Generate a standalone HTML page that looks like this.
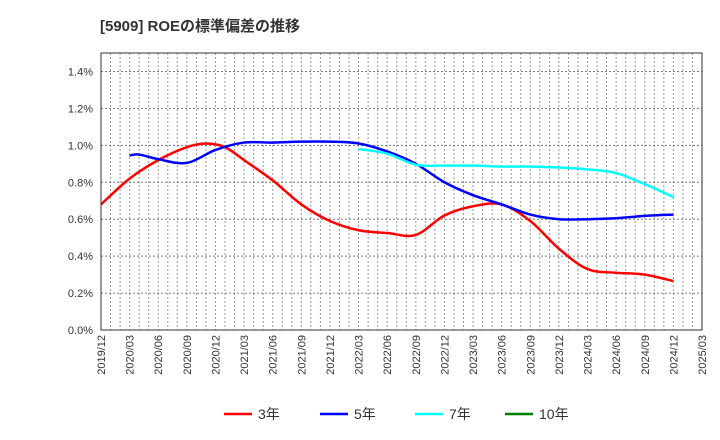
<!DOCTYPE html>
<html><head><meta charset="utf-8"><style>
body{margin:0;background:#fff;font-family:"Liberation Sans","Noto Sans CJK JP",sans-serif;}
#wrap{width:720px;height:440px;position:relative;overflow:hidden;}
</style></head><body>
<div id="wrap">
<svg id="svg" width="720" height="440" xmlns="http://www.w3.org/2000/svg">
<text x="100" y="31" font-size="15" font-weight="bold" fill="#333" font-family="Liberation Sans, Noto Sans CJK JP, sans-serif">[5909]  ROEの標準偏差の推移</text>
</svg>
</div>
<script>
const xLabels=["2019/12","2020/03","2020/06","2020/09","2020/12","2021/03","2021/06","2021/09","2021/12","2022/03","2022/06","2022/09","2022/12","2023/03","2023/06","2023/09","2023/12","2024/03","2024/06","2024/09","2024/12","2025/03"];
const yTicks=[0,0.2,0.4,0.6,0.8,1.0,1.2,1.4];
// values by month index (0 = 2019/12)
const red3Months=[0,3,6,9,11,13,15,18,21,24,27,30,33,36,39,42,45,48,51,54,57,60];
const red3=[0.68,0.82,0.92,0.99,1.01,0.99,0.92,0.81,0.68,0.59,0.54,0.525,0.515,0.62,0.67,0.68,0.59,0.44,0.33,0.31,0.30,0.265];
const blue5Months=[3,4,6,9,12,15,18,21,24,27,30,33,36,39,42,45,48,51,54,57,60];
const blue5=[0.945,0.95,0.925,0.905,0.975,1.015,1.015,1.02,1.02,1.01,0.967,0.90,0.80,0.73,0.68,0.625,0.60,0.60,0.605,0.618,0.625];
const cyan7Months=[27,30,33,36,39,42,45,48,51,54,57,60];
const cyan7=[0.98,0.955,0.895,0.89,0.89,0.885,0.885,0.88,0.87,0.85,0.79,0.72];
const series=[
 {name:"3年",color:"#ff0000",m:red3Months,v:red3,id:"line-3yr"},
 {name:"5年",color:"#0000ff",m:blue5Months,v:blue5,id:"line-5yr"},
 {name:"7年",color:"#00ffff",m:cyan7Months,v:cyan7,id:"line-7yr"},
 {name:"10年",color:"#008000",m:[],v:[],id:"line-10yr"}];
const L=101,R=702,T=53,B=330,NM=63,YMAX=1.5;
const xs=m=>L+(R-L)*m/NM, ys=v=>B-(B-T)*v/YMAX;
const svg=document.getElementById('svg'),NS="http://www.w3.org/2000/svg";
function mk(t,a,p){const e=document.createElementNS(NS,t);for(const k in a)e.setAttribute(k,a[k]);(p||svg).appendChild(e);return e;}
const g=mk('g',{});


for(let m=1;m<NM;m++){mk('line',{x1:xs(m),x2:xs(m),y1:T,y2:B,stroke:"#999","stroke-dasharray":"2,2","stroke-width":1},g);}
yTicks.forEach(v=>{if(v>0)mk('line',{x1:L,x2:R,y1:ys(v),y2:ys(v),stroke:"#777","stroke-dasharray":"2,2","stroke-width":1},g);
 const t=mk('text',{x:L-8,y:ys(v)+4,"text-anchor":"end","font-size":11,fill:"#333"});t.textContent=v.toFixed(1)+"%";
 
 });
xLabels.forEach((s,i)=>{const x=xs(i*3);const t=mk('text',{x:0,y:0,transform:`translate(${x+4},${B+5}) rotate(-90)`,"text-anchor":"end","font-size":11,fill:"#333"});t.textContent=s;
 
 });
function path(pts){let d=`M${pts[0][0]},${pts[0][1]}`;for(let i=0;i<pts.length-1;i++){const p0=pts[Math.max(0,i-1)],p1=pts[i],p2=pts[i+1],p3=pts[Math.min(pts.length-1,i+2)];
 const c1=[p1[0]+(p2[0]-p0[0])/6,p1[1]+(p2[1]-p0[1])/6],c2=[p2[0]-(p3[0]-p1[0])/6,p2[1]-(p3[1]-p1[1])/6];
 d+=`C${c1[0]},${c1[1]} ${c2[0]},${c2[1]} ${p2[0]},${p2[1]}`;}return d;}
series.forEach(s=>{if(!s.v.length)return;const pts=s.m.map((m,i)=>[xs(m),ys(s.v[i])]);
 const p=mk('path',{d:path(pts),fill:"none",stroke:s.color,"stroke-width":2.5});
 
 });
const f=mk('rect',{x:L,y:T,width:R-L,height:B-T,fill:"none",stroke:"#333","stroke-width":1});


const lx=[224,320,415,505];
series.forEach((s,i)=>{const lg=mk('g',{});
 
 
 mk('line',{x1:lx[i],x2:lx[i]+28,y1:414,y2:414,stroke:s.color,"stroke-width":2.5},lg);
 const t=mk('text',{x:lx[i]+34,y:419,"font-size":14,fill:"#333"},lg);t.textContent=s.name;});
</script>
</body></html>
